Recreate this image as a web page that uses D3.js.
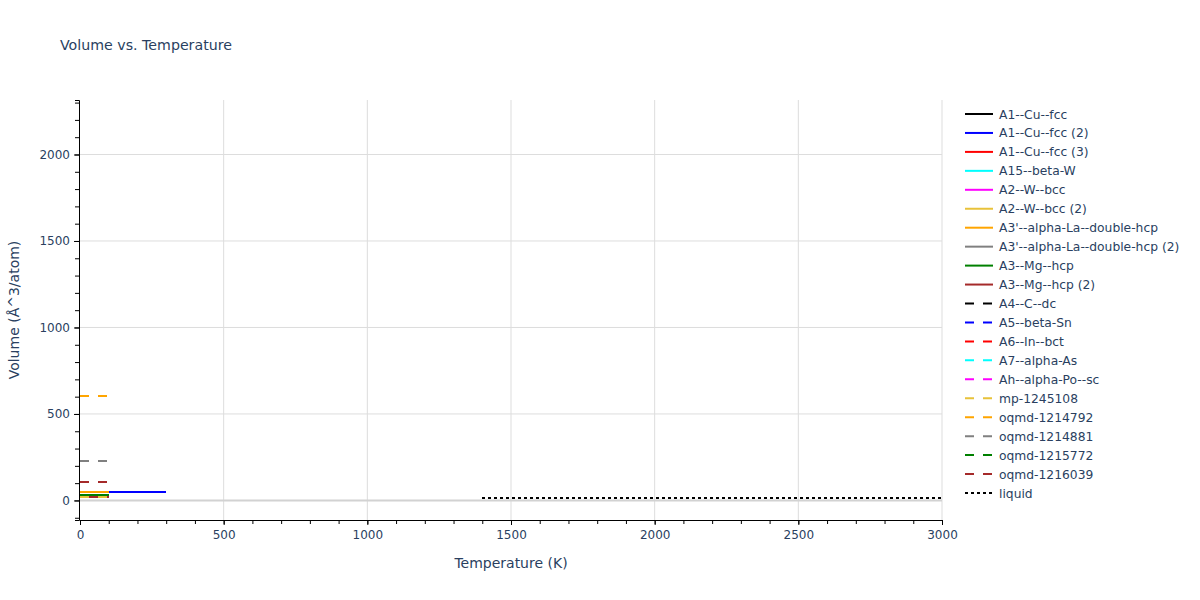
<!DOCTYPE html>
<html>
<head>
<meta charset="utf-8">
<script src="https://cdn.jsdelivr.net/npm/d3@7"></script>
<style>
  body { margin: 0; background: #fff; }
  svg text { font-family: "DejaVu Sans", Verdana, sans-serif; fill: #2a3f5f; }
</style>
</head>
<body>
<svg id="chart" width="1200" height="600"></svg>
<script>
// ---- data ----
const seriesNames = [
  "A1--Cu--fcc", "A1--Cu--fcc (2)", "A1--Cu--fcc (3)", "A15--beta-W", "A2--W--bcc",
  "A2--W--bcc (2)", "A3'--alpha-La--double-hcp", "A3'--alpha-La--double-hcp (2)",
  "A3--Mg--hcp", "A3--Mg--hcp (2)", "A4--C--dc", "A5--beta-Sn", "A6--In--bct",
  "A7--alpha-As", "Ah--alpha-Po--sc", "mp-1245108", "oqmd-1214792", "oqmd-1214881",
  "oqmd-1215772", "oqmd-1216039", "liquid"
];
const seriesColors = [
  "#000000", "#0000ff", "#ff0000", "#00ffff", "#ff00ff",
  "#e8c23a", "#ffa500", "#808080", "#008000", "#a52a2a",
  "#000000", "#0000ff", "#ff0000", "#00ffff", "#ff00ff",
  "#e8c23a", "#ffa500", "#808080", "#008000", "#a52a2a", "#000000"
];
const seriesDash = [
  "solid","solid","solid","solid","solid","solid","solid","solid","solid","solid",
  "dash","dash","dash","dash","dash","dash","dash","dash","dash","dash","dot"
];
const tempLow = [0, 25, 50, 75, 100];
const tempBlue = [0, 50, 100, 150, 200, 250, 300];
const tempLiquid = [1400, 1800, 2200, 2600, 3000];
const seriesTemps = [
  tempLow, tempBlue, tempLow, tempLow, tempLow,
  tempLow, tempLow, tempLow, tempLow, tempLow,
  tempLow, tempLow, tempLow, tempLow, tempLow,
  tempLow, tempLow, tempLow, tempLow, tempLow, tempLiquid
];
const seriesVolumes = [
  [47.4, 47.4, 47.45, 47.5, 47.55],
  [47.4, 47.45, 47.55, 47.7, 47.9, 48.1, 48.3],
  [47.4, 47.4, 47.45, 47.5, 47.55],
  [34.0, 34.0, 34.05, 34.1, 34.15],
  [34.0, 34.0, 34.05, 34.1, 34.15],
  [34.0, 34.0, 34.05, 34.1, 34.15],
  [47.5, 47.5, 47.55, 47.6, 47.65],
  [34.0, 34.0, 34.05, 34.1, 34.15],
  [34.0, 34.0, 34.05, 34.1, 34.15],
  [22.0, 22.0, 22.05, 22.1, 22.15],
  [34.0, 34.0, 34.05, 34.1, 34.15],
  [34.0, 34.0, 34.05, 34.1, 34.15],
  [107.0, 107.0, 107.05, 107.1, 107.15],
  [227.0, 227.0, 227.05, 227.1, 227.2],
  [605.0, 605.0, 605.05, 605.1, 605.2],
  [19.2, 19.2, 19.25, 19.3, 19.35],
  [605.0, 605.0, 605.05, 605.1, 605.2],
  [227.0, 227.0, 227.05, 227.1, 227.2],
  [34.0, 34.0, 34.05, 34.1, 34.15],
  [107.0, 107.0, 107.05, 107.1, 107.15],
  [13.0, 13.5, 14.0, 14.6, 15.2]
];
const xTickLabels = [0, 500, 1000, 1500, 2000, 2500, 3000];
const yTickLabels = [0, 500, 1000, 1500, 2000];
const xDomain = [0, 3000];
const yDomain = [-113, 2315];

// ---- layout ----
const svg = d3.select("#chart");
const L = 80, R = 942, T = 100, B = 520;
const x = d3.scaleLinear().domain(xDomain).range([L, R]);
const y = d3.scaleLinear().domain(yDomain).range([B, T]);

svg.append("rect").attr("width", 1200).attr("height", 600).attr("fill", "#fff");

// grid
const grid = svg.append("g");
grid.selectAll("line.gx").data(xTickLabels.filter(d => d !== 0)).enter().append("line")
  .attr("x1", d => x(d)).attr("x2", d => x(d)).attr("y1", T).attr("y2", B)
  .attr("stroke", "#dddddd").attr("stroke-width", 1);
grid.selectAll("line.gy").data(yTickLabels.filter(d => d !== 0)).enter().append("line")
  .attr("x1", L).attr("x2", R).attr("y1", d => y(d)).attr("y2", d => y(d))
  .attr("stroke", "#dddddd").attr("stroke-width", 1);
// zero line
grid.append("line").attr("x1", L).attr("x2", R).attr("y1", y(0)).attr("y2", y(0))
  .attr("stroke", "#d2d2d2").attr("stroke-width", 2);

// data
svg.append("clipPath").attr("id", "clip").append("rect")
  .attr("x", L).attr("y", T).attr("width", R - L).attr("height", B - T);
const dashMap = { solid: null, dash: "9,9", dot: "3,3" };
const line = d3.line().x(d => x(d[0])).y(d => y(d[1]));
const plot = svg.append("g").attr("clip-path", "url(#clip)");
seriesNames.forEach((name, i) => {
  const pts = seriesTemps[i].map((t, j) => [t, seriesVolumes[i][j]]);
  plot.append("path").datum(pts).attr("d", line)
    .attr("fill", "none").attr("stroke", seriesColors[i]).attr("stroke-width", 2)
    .attr("shape-rendering", "crispEdges")
    .attr("stroke-dasharray", dashMap[seriesDash[i]]);
});

// axes
const xMinor = d3.range(0, 3001, 100);
const yMinor = d3.range(-100, 2301, 100);
const xAxis = svg.append("g").attr("transform", `translate(0,${B})`)
  .call(d3.axisBottom(x).tickValues(xMinor).tickSize(4).tickFormat(""));
xAxis.select(".domain").attr("stroke", "#000");
xAxis.selectAll(".tick line").attr("stroke", "#000");
const xAxisMajor = svg.append("g").attr("transform", `translate(0,${B})`)
  .call(d3.axisBottom(x).tickValues(xTickLabels).tickSize(5).tickPadding(5).tickFormat(d3.format("d")));
xAxisMajor.select(".domain").remove();
xAxisMajor.selectAll(".tick line").attr("stroke", "#000");
xAxisMajor.selectAll(".tick text").attr("font-size", 12).style("fill", "#2a3f5f");

const yAxis = svg.append("g").attr("transform", `translate(${L - 1},0)`)
  .call(d3.axisLeft(y).tickValues(yMinor).tickSize(4).tickFormat(""));
yAxis.select(".domain").attr("stroke", "#000");
yAxis.selectAll(".tick line").attr("stroke", "#000");
const yAxisMajor = svg.append("g").attr("transform", `translate(${L - 1},0)`)
  .call(d3.axisLeft(y).tickValues(yTickLabels).tickSize(5).tickPadding(4).tickFormat(d3.format("d")));
yAxisMajor.select(".domain").remove();
yAxisMajor.selectAll(".tick line").attr("stroke", "#000");
yAxisMajor.selectAll(".tick text").attr("font-size", 12).style("fill", "#2a3f5f");

// titles
svg.append("text").attr("x", 60).attr("y", 50).attr("font-size", 14.2).text("Volume vs. Temperature");
svg.append("text").attr("x", (L + R) / 2).attr("y", 568).attr("text-anchor", "middle")
  .attr("font-size", 14).text("Temperature (K)");
svg.append("text").attr("transform", `translate(19,${(T + B) / 2}) rotate(-90)`)
  .attr("text-anchor", "middle").attr("font-size", 14).text("Volume (Å^3/atom)");

// legend
const leg = svg.append("g");
seriesNames.forEach((name, i) => {
  const yy = 114 + i * 18.95;
  leg.append("line").attr("x1", 965).attr("x2", 993).attr("y1", yy).attr("y2", yy)
    .attr("stroke", seriesColors[i]).attr("stroke-width", 2)
    .attr("stroke-dasharray", dashMap[seriesDash[i]]);
  leg.append("text").attr("x", 999).attr("y", yy + 4.5).attr("font-size", 12.3).text(name);
});
</script>
</body>
</html>
